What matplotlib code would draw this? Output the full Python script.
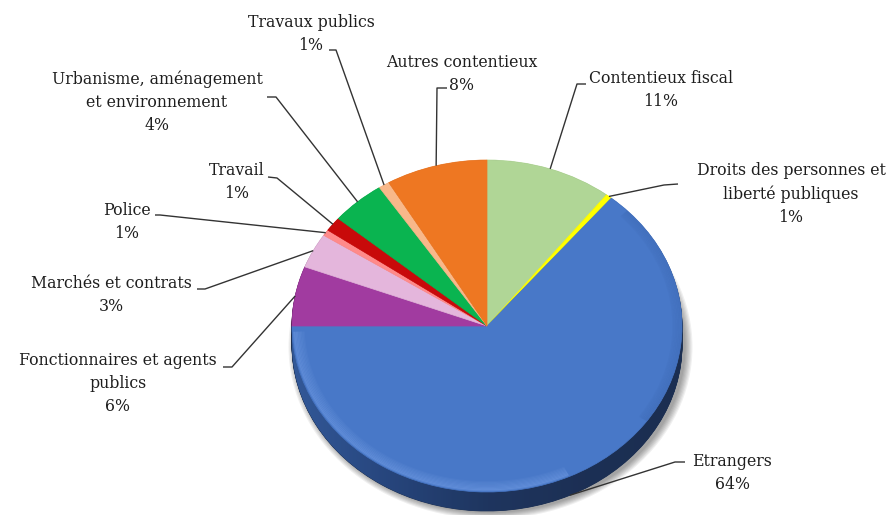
import matplotlib
matplotlib.use("Agg")
import matplotlib.pyplot as plt
import numpy as np
from matplotlib.patches import Ellipse, Polygon, Arc
from matplotlib.colors import to_rgb, LinearSegmentedColormap

# ---------------- data ----------------
categories = ["Contentieux fiscal",
              "Droits des personnes et\nliberté publiques",
              "Etrangers",
              "Fonctionnaires et agents\npublics",
              "Marchés et contrats",
              "Police",
              "Travail",
              "Urbanisme, aménagement\net environnement",
              "Travaux publics",
              "Autres contentieux"]
shares = [10.5, 0.5, 64.0, 5.8, 3.4, 0.6, 1.4, 4.5, 0.9, 8.4]
pct_labels = ["11%", "1%", "64%", "6%", "3%", "1%", "1%", "4%", "1%", "8%"]
colors = ["#B0D696", "#FFFF00", "#4878C8", "#A13BA0", "#E4B6DC",
          "#FF8A8A", "#C80A0A", "#0AB450", "#F8B88A", "#EE7722"]

# ---------------- layout ----------------
W, H = 892, 515
CX, CY = 487, 326
RX, RY = 195, 166
DEPTH = 19
LH = 24.3
FONT = dict(family="DejaVu Serif", size=11.3, color="#1e1e1e")

# label block: (centre x, first line y), leader elbow, leader end at text
label_pos = [(661, 78), (791, 170), (732, 461), (118, 359), (111, 283),
             (127, 210), (237, 170), (157, 78), (311, 22), (462, 62)]
elbows = [(577, 84), (664, 185), (675, 462), (232, 367), (205, 289),
          (160, 215), (277, 178), (276, 97), (336, 50), (437, 88)]
conns = [(586, 84), (678, 184), (685, 462), (223, 367), (197, 289),
         (155, 215), (268, 177), (267, 97), (329, 50), (447, 88)]

fig = plt.figure(figsize=(W / 100, H / 100), dpi=100)
fig.patch.set_facecolor("white")

# pie axes: one data unit = one radius
ax = fig.add_axes([0, 0, 1, 1])
ax.axis("off")
d = DEPTH / RY

# soft shadow (tight halo, bottom-right)
for i in range(7):
    s = 1.0 + 0.006 * i
    ax.add_patch(Ellipse((0.018, -d - 0.012), 2 * s, 2 * s,
                         facecolor="black", alpha=0.06, lw=0, zorder=0))

# extruded side
dark = [tuple(c * 0.42 for c in to_rgb(col)) for col in colors]
n = 30
for k in range(n, 0, -1):
    wedges, _ = ax.pie(shares, colors=dark, startangle=90, counterclock=False,
                       center=(0, -d * k / n))
    for w in wedges:
        w.set_edgecolor(w.get_facecolor())
        w.set_linewidth(0.6)
        w.set_zorder(1)

# gradient shading on the visible side band (lighter on the left)
t = np.linspace(np.pi, 2 * np.pi, 200)
top_edge = np.column_stack([np.cos(t), np.sin(t)])
bot_edge = np.column_stack([np.cos(t[::-1]), np.sin(t[::-1]) - d])
side = Polygon(np.vstack([top_edge, bot_edge]), closed=True,
               facecolor="none", edgecolor="none", transform=ax.transData)
ax.add_patch(side)
side_cmap = LinearSegmentedColormap.from_list(
    "side", ["#3A66B0", "#2A4C8A", "#1F3763", "#1C2F55", "#1B2D50"])
grad = np.linspace(0, 1, 256).reshape(1, -1)
im = ax.imshow(grad, cmap=side_cmap, extent=(-1, 1, -1 - d, 0.2),
               aspect="auto", alpha=0.75, zorder=1.5)
im.set_clip_path(side)

# top face
wedges, _ = ax.pie(shares, colors=colors, startangle=90, counterclock=False)
for w in wedges:
    w.set_edgecolor(w.get_facecolor())
    w.set_linewidth(0.5)
    w.set_zorder(2)

# bevel highlight along the lower-left rim of the large slice
for j, r in enumerate(np.linspace(0.94, 0.99, 8)):
    ax.add_patch(Arc((0, 0), 2 * r, 2 * r, theta1=182, theta2=295,
                     color="#9CC0FF", alpha=0.05 + 0.02 * j, lw=1.4,
                     zorder=2.5))
for j, r in enumerate(np.linspace(0.955, 0.995, 6)):
    ax.add_patch(Arc((0, 0), 2 * r, 2 * r, theta1=-35, theta2=44,
                     color="#2B4F90", alpha=0.06 + 0.02 * j, lw=1.2,
                     zorder=2.5))

ax.set_aspect("auto")
ax.set_xlim(-CX / RX, (W - CX) / RX)
ax.set_ylim(-(H - CY) / RY, CY / RY)

# labels axes in pixel coordinates
axl = fig.add_axes([0, 0, 1, 1])
axl.set_xlim(0, W)
axl.set_ylim(H, 0)
axl.axis("off")

cum = np.cumsum([0] + shares)
total = cum[-1]
for i, name in enumerate(categories):
    mid = (cum[i] + cum[i + 1]) / 2 / total * 2 * np.pi
    px = CX + RX * np.sin(mid)
    py = CY - RY * np.cos(mid)
    if np.cos(mid) < -0.5:
        py += DEPTH
    ex, ey = elbows[i]
    qx, qy = conns[i]
    axl.plot([px, ex, qx], [py, ey, qy], color="#333333", lw=1.0,
             solid_capstyle="butt")
    text = name + "\n" + pct_labels[i]
    nl = text.count("\n") + 1
    lx, ly = label_pos[i]
    axl.text(lx, ly + (nl - 1) * LH / 2, text, ha="center", va="center",
             linespacing=1.47, **FONT)

fig.savefig("out.png", dpi=100)
